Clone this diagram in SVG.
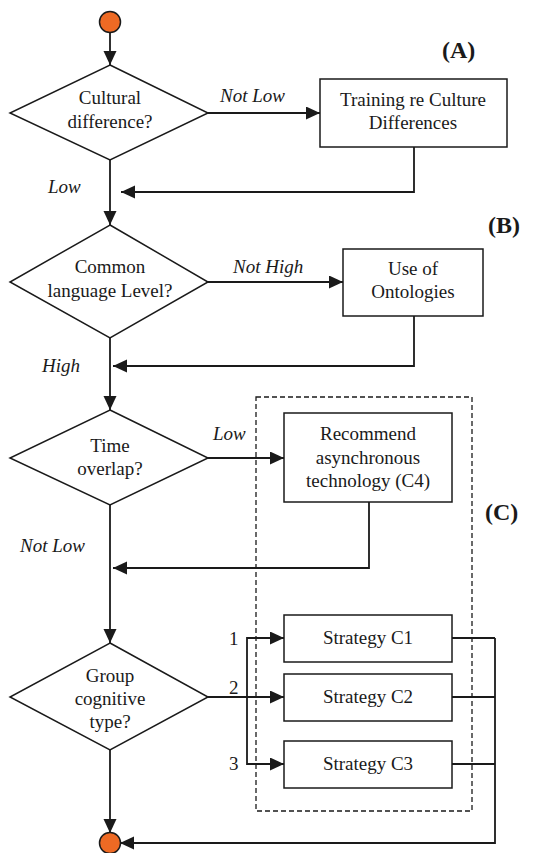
<svg xmlns="http://www.w3.org/2000/svg" width="539" height="853" viewBox="0 0 539 853">
  <style>
    .shape { fill: #fff; stroke: #1a1a1a; stroke-width: 1.5; }
    .term { fill: #ee6a24; stroke: #1a1a1a; stroke-width: 1.5; }
    .flow { fill: none; stroke: #1a1a1a; stroke-width: 1.8; }
    .arrow { marker-end: url(#head); }
    .group { fill: none; stroke: #1a1a1a; stroke-width: 1.3; stroke-dasharray: 5 3; }
    text { font-family: "Liberation Serif", "Times New Roman", serif; font-size: 19px; fill: #1a1a1a; }
    .c { text-anchor: middle; }
    .it { font-style: italic; }
    .tag { font-weight: bold; font-size: 24px; }
  </style>
  <defs>
    <marker id="head" markerUnits="userSpaceOnUse" markerWidth="16" markerHeight="14" refX="14" refY="6.5" orient="auto">
      <path d="M0,0 L14,6.5 L0,13 Z" fill="#1a1a1a"/>
    </marker>
  </defs>

  <!-- group C boundary -->
  <rect class="group" x="256" y="397" width="216" height="414"/>

  <!-- connectors -->
  <g id="connectors">
    <line class="flow arrow" x1="110" y1="33" x2="110" y2="65"/>
    <line class="flow arrow" x1="208" y1="113" x2="320" y2="113"/>
    <polyline class="flow arrow" points="414,147 414,192 121,192"/>
    <line class="flow arrow" x1="110" y1="160" x2="110" y2="225"/>
    <line class="flow arrow" x1="208" y1="282" x2="343" y2="282"/>
    <polyline class="flow arrow" points="414,316 414,366 113,366"/>
    <line class="flow arrow" x1="110" y1="338" x2="110" y2="410"/>
    <line class="flow arrow" x1="208" y1="458" x2="284" y2="458"/>
    <polyline class="flow arrow" points="369,502 369,568 113,568"/>
    <line class="flow arrow" x1="110" y1="505" x2="110" y2="643"/>
    <line class="flow arrow" x1="208" y1="697" x2="284" y2="697"/>
    <polyline class="flow arrow" points="247,697 247,638 284,638"/>
    <polyline class="flow arrow" points="247,697 247,764 284,764"/>
    <line class="flow" x1="452" y1="638" x2="495" y2="638"/>
    <line class="flow" x1="452" y1="697" x2="495" y2="697"/>
    <line class="flow" x1="452" y1="764" x2="495" y2="764"/>
    <polyline class="flow arrow" points="495,638 495,843 120,843"/>
    <line class="flow arrow" x1="110" y1="750" x2="110" y2="833"/>
  </g>

  <!-- edge labels -->
  <text class="it" x="220" y="102">Not Low</text>
  <text class="it" x="48" y="193">Low</text>
  <text class="it" x="233" y="273">Not High</text>
  <text class="it" x="42" y="372">High</text>
  <text class="it" x="213" y="440">Low</text>
  <text class="it" x="20" y="552">Not Low</text>
  <text x="229" y="645">1</text>
  <text x="229" y="694">2</text>
  <text x="229" y="770">3</text>

  <!-- section tags -->
  <text class="tag" x="442" y="58">(A)</text>
  <text class="tag" x="488" y="233">(B)</text>
  <text class="tag" x="485" y="520">(C)</text>

  <!-- nodes -->
  <g id="start">
    <circle class="term" cx="110" cy="22" r="10.5"/>
  </g>
  <g id="cultural-difference">
    <polygon class="shape" points="110,65 208,113 110,160 10,113"/>
    <text class="c" x="110" y="104">Cultural</text>
    <text class="c" x="110" y="128">difference?</text>
  </g>
  <g id="training">
    <rect class="shape" x="320" y="79" width="187" height="68"/>
    <text class="c" x="413" y="106">Training re Culture</text>
    <text class="c" x="413" y="129">Differences</text>
  </g>
  <g id="common-language">
    <polygon class="shape" points="110,225 208,282 110,338 10,282"/>
    <text class="c" x="110" y="273">Common</text>
    <text class="c" x="110" y="297">language Level?</text>
  </g>
  <g id="ontologies">
    <rect class="shape" x="343" y="249" width="140" height="67"/>
    <text class="c" x="413" y="275">Use of</text>
    <text class="c" x="413" y="298">Ontologies</text>
  </g>
  <g id="time-overlap">
    <polygon class="shape" points="110,410 208,458 110,505 10,458"/>
    <text class="c" x="110" y="452">Time</text>
    <text class="c" x="110" y="475">overlap?</text>
  </g>
  <g id="async-tech">
    <rect class="shape" x="284" y="413" width="168" height="89"/>
    <text class="c" x="368" y="440">Recommend</text>
    <text class="c" x="368" y="464">asynchronous</text>
    <text class="c" x="368" y="487">technology (C4)</text>
  </g>
  <g id="cognitive-type">
    <polygon class="shape" points="110,643 208,697 110,750 10,697"/>
    <text class="c" x="110" y="682">Group</text>
    <text class="c" x="110" y="705">cognitive</text>
    <text class="c" x="110" y="728">type?</text>
  </g>
  <g id="strategy-c1">
    <rect class="shape" x="284" y="615" width="168" height="47"/>
    <text class="c" x="368" y="644">Strategy C1</text>
  </g>
  <g id="strategy-c2">
    <rect class="shape" x="284" y="674" width="168" height="47"/>
    <text class="c" x="368" y="703">Strategy C2</text>
  </g>
  <g id="strategy-c3">
    <rect class="shape" x="284" y="741" width="168" height="47"/>
    <text class="c" x="368" y="770">Strategy C3</text>
  </g>
  <g id="end">
    <circle class="term" cx="110" cy="843" r="10.5"/>
  </g>
</svg>
